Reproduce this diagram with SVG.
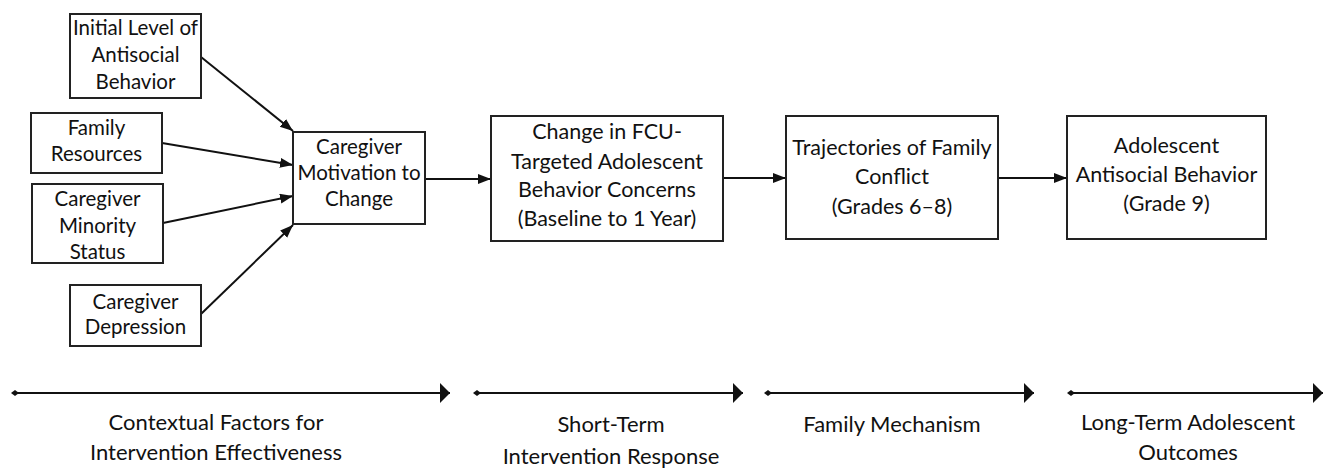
<svg xmlns="http://www.w3.org/2000/svg" width="1330" height="470" viewBox="0 0 1330 470">
<defs>
<style>
.box{fill:#fff;stroke:#222;stroke-width:2}
.t{font-family:Lato,"Open Sans","Liberation Sans",sans-serif;font-size:20.5px;fill:#111;text-anchor:middle}
.tb{font-size:21.5px}
.tl{font-size:22px}
.c{stroke:#111;stroke-width:2;fill:none}
</style>
<marker id="ah" markerUnits="userSpaceOnUse" markerWidth="14" markerHeight="12" refX="13" refY="5" orient="auto">
<path d="M0,0 L13,5 L0,10 z" fill="#111"/>
</marker>
<marker id="bh" markerUnits="userSpaceOnUse" markerWidth="12" markerHeight="22" refX="10" refY="10" orient="auto">
<path d="M0,0 L10,10 L0,20 z" fill="#111"/>
</marker>
<marker id="dm" markerUnits="userSpaceOnUse" markerWidth="10" markerHeight="10" refX="4" refY="4" orient="auto">
<path d="M0,4 L4,1 L8,4 L4,7 z" fill="#111"/>
</marker>
</defs>
<rect width="1330" height="470" fill="#fff"/>
<g id="connectors">
<line class="c" x1="201" y1="57" x2="293" y2="131" marker-end="url(#ah)"/>
<line class="c" x1="162" y1="143" x2="293" y2="165" marker-end="url(#ah)"/>
<line class="c" x1="163" y1="223" x2="293" y2="196" marker-end="url(#ah)"/>
<line class="c" x1="201" y1="314" x2="293" y2="225" marker-end="url(#ah)"/>
<line class="c" x1="425" y1="179" x2="491" y2="179" marker-end="url(#ah)"/>
<line class="c" x1="723" y1="178" x2="786" y2="178" marker-end="url(#ah)"/>
<line class="c" x1="998" y1="178" x2="1067" y2="178" marker-end="url(#ah)"/>
</g>
<g id="node-initial">
<rect class="box" x="70" y="14" width="131" height="84"/>
<text class="t" x="135.5" y="35">Initial Level of</text>
<text class="t" x="135.5" y="62">Antisocial</text>
<text class="t" x="135.5" y="89">Behavior</text>
</g>
<g id="node-family">
<rect class="box" x="31" y="113" width="131" height="60"/>
<text class="t" x="96.5" y="135">Family</text>
<text class="t" x="96.5" y="161">Resources</text>
</g>
<g id="node-minority">
<rect class="box" x="32" y="184" width="131" height="79"/>
<text class="t" x="97.5" y="206">Caregiver</text>
<text class="t" x="97.5" y="233">Minority</text>
<text class="t" x="97.5" y="259">Status</text>
</g>
<g id="node-depression">
<rect class="box" x="70" y="285" width="131" height="61"/>
<text class="t" x="135.5" y="309">Caregiver</text>
<text class="t" x="135.5" y="334">Depression</text>
</g>
<g id="node-motivation">
<rect class="box" x="293" y="132" width="132" height="92"/>
<text class="t" x="359" y="154">Caregiver</text>
<text class="t" x="359" y="180">Motivation to</text>
<text class="t" x="359" y="206">Change</text>
</g>
<g id="node-fcu">
<rect class="box" x="491" y="116" width="232" height="125"/>
<text class="t tb" x="607" y="139">Change in FCU-</text>
<text class="t tb" x="607" y="169">Targeted Adolescent</text>
<text class="t tb" x="607" y="197">Behavior Concerns</text>
<text class="t tb" x="607" y="226">(Baseline to 1 Year)</text>
</g>
<g id="node-trajectories">
<rect class="box" x="786" y="116" width="212" height="123"/>
<text class="t tb" x="892" y="155">Trajectories of Family</text>
<text class="t tb" x="892" y="184">Conflict</text>
<text class="t tb" x="892" y="214">(Grades 6–8)</text>
</g>
<g id="node-outcome">
<rect class="box" x="1067" y="116" width="199" height="123"/>
<text class="t tb" x="1166.5" y="153">Adolescent</text>
<text class="t tb" x="1166.5" y="182">Antisocial Behavior</text>
<text class="t tb" x="1166.5" y="211">(Grade 9)</text>
</g>
<g id="timeline">
<line class="c" x1="15" y1="393" x2="450" y2="393" marker-start="url(#dm)" marker-end="url(#bh)"/>
<line class="c" x1="477" y1="393" x2="743" y2="393" marker-start="url(#dm)" marker-end="url(#bh)"/>
<line class="c" x1="768" y1="393" x2="1034" y2="393" marker-start="url(#dm)" marker-end="url(#bh)"/>
<line class="c" x1="1071" y1="393" x2="1323" y2="393" marker-start="url(#dm)" marker-end="url(#bh)"/>
<text class="t tl" x="216" y="430">Contextual Factors for</text>
<text class="t tl" x="216" y="460">Intervention Effectiveness</text>
<text class="t tl" x="611" y="432">Short-Term</text>
<text class="t tl" x="611" y="464">Intervention Response</text>
<text class="t tl" x="892" y="432">Family Mechanism</text>
<text class="t tl" x="1188" y="430">Long-Term Adolescent</text>
<text class="t tl" x="1188" y="460">Outcomes</text>
</g>
</svg>
